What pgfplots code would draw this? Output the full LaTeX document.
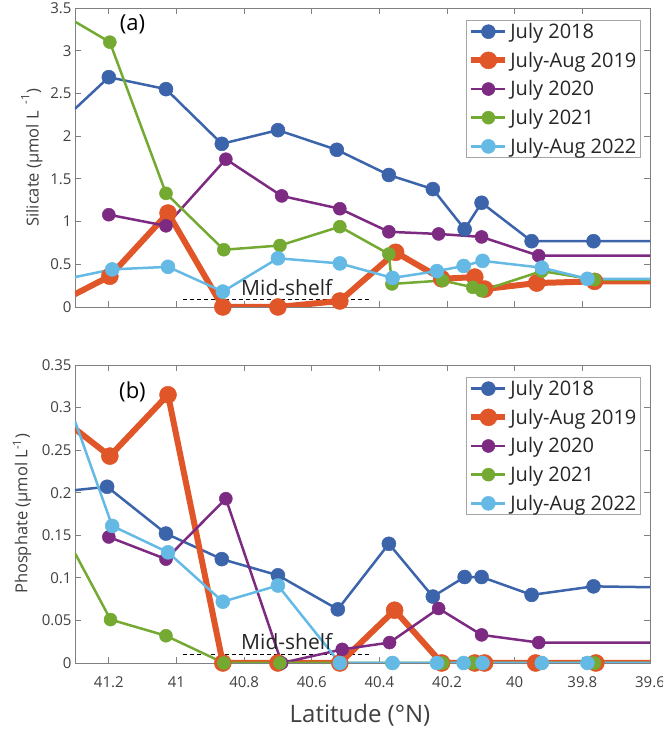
\documentclass[border=0pt]{standalone}
\usepackage{pgfplots}
\pgfplotsset{compat=1.18}
\usepackage{fontspec}
\setmainfont{Open Sans}

\definecolor{c18}{RGB}{60,100,170}
\definecolor{c19}{RGB}{224,86,40}
\definecolor{c20}{RGB}{125,42,130}
\definecolor{c21}{RGB}{116,170,50}
\definecolor{c22}{RGB}{100,186,228}

\newcommand{\legpad}{\hspace{12bp}}

\pgfplotsset{
  transect/.style={
    scale only axis, width=575bp,
    x dir=reverse, xmin=39.6, xmax=41.3,
    xtick={39.6,39.8,40,40.2,40.4,40.6,40.8,41,41.2},
    tick align=inside, major tick length=6bp,
    axis line style={black!50, line width=0.8bp},
    every tick/.style={black!50, line width=0.8bp},
    tick label style={font=\fontsize{15bp}{18bp}\selectfont, text=black!75},
    xticklabel style={yshift=-10bp},
    every axis y label/.style={rotate=90, anchor=center,
      font=\fontsize{16.5bp}{19bp}\selectfont, text=black!75},
    legend style={at={(0.984,0.96)}, anchor=north east, draw=black!35,
      line width=0.8bp, fill=white,
      font=\fontsize{20bp}{24bp}\selectfont, text=black!85,
      cells={anchor=west}, row sep=8bp, inner xsep=2bp, inner ysep=1bp},
    legend image code/.code={%
      \draw[mark indices={2}] plot coordinates {(0bp,0bp) (17bp,0bp) (34bp,0bp)};},
    clip=true,
  },
  s18/.style={color=c18, line width=2.5bp, mark=*, mark size=7bp, mark options={fill=c18, draw=c18, line width=0.5bp}},
  s19/.style={color=c19, line width=6bp, mark=*, mark size=8.5bp, mark options={fill=c19, draw=c19, line width=0.5bp}},
  s20/.style={color=c20, line width=2.5bp, mark=*, mark size=6.5bp, mark options={fill=c20, draw=c20, line width=0.5bp}},
  s21/.style={color=c21, line width=2.5bp, mark=*, mark size=6.5bp, mark options={fill=c21, draw=c21, line width=0.5bp}},
  s22/.style={color=c22, line width=2.5bp, mark=*, mark size=7bp, mark options={fill=c22, draw=c22, line width=0.5bp}},
}

\begin{document}
\begin{tikzpicture}[x=1bp,y=1bp]
\path[use as bounding box] (0,0) rectangle (663,733);

% ---------------- (a) silicate ----------------
\begin{axis}[transect, at={(75bp,426bp)}, anchor=south west, height=299bp,
  ymin=0, ymax=3.5,
  ytick={0,0.5,1,1.5,2,2.5,3,3.5},
  yticklabels={0,0.5,1,1.5,2,2.5,3,3.5},
  xticklabels={},
  ylabel={Silicate (µmol L\hspace{7bp}\raisebox{3bp}{\textsuperscript{-1}})},
  every axis y label/.append style={at={(axis description cs:-0.075,0.5)}},
]
\addplot[black, dashed, line width=1bp, dash pattern=on 4bp off 3bp, forget plot]
  coordinates {(40.981,0.082) (40.423,0.082)};
\addplot[s18, mark indices={2,3,4,5,6,7,8,9,10,11,12}] coordinates {
  (41.3,2.32) (41.2,2.69) (41.031,2.55) (40.866,1.91) (40.70,2.07) (40.526,1.84)
  (40.372,1.545) (40.242,1.38) (40.148,0.91) (40.098,1.22) (39.95,0.77) (39.767,0.77) (39.6,0.77)};
\addlegendentry{July 2018\legpad}
\addplot[s19, mark indices={2,3,4,5,6,7,8,9,10,11,12}] coordinates {
  (41.3,0.15) (41.197,0.36) (41.025,1.10) (40.863,0.0) (40.70,0.0) (40.517,0.07)
  (40.352,0.64) (40.216,0.33) (40.118,0.35) (40.089,0.21) (39.935,0.28) (39.764,0.30) (39.6,0.30)};
\addlegendentry{July-Aug 2019\legpad}
\addplot[s20, mark indices={1,2,3,4,5,6,7,8,9}] coordinates {
  (41.2,1.08) (41.031,0.95) (40.854,1.73) (40.689,1.30) (40.517,1.15) (40.372,0.88)
  (40.225,0.855) (40.098,0.82) (39.929,0.60) (39.6,0.60)};
\addlegendentry{July 2020\legpad}
\addplot[s21, mark indices={2,3,4,5,6,7,8,9,10,11,12,13}] coordinates {
  (41.3,3.34) (41.197,3.10) (41.031,1.33) (40.86,0.67) (40.694,0.72) (40.517,0.94)
  (40.372,0.62) (40.363,0.27) (40.213,0.31) (40.124,0.23) (40.098,0.19) (39.92,0.42) (39.764,0.32) (39.6,0.32)};
\addlegendentry{July 2021\legpad}
\addplot[s22, mark indices={2,3,4,5,6,7,8,9,10,11,12}] coordinates {
  (41.3,0.35) (41.19,0.44) (41.025,0.47) (40.863,0.18) (40.70,0.57) (40.517,0.51)
  (40.361,0.34) (40.23,0.42) (40.151,0.48) (40.095,0.54) (39.92,0.46) (39.785,0.33) (39.6,0.33)};
\addlegendentry{July-Aug 2022\legpad}
\node[anchor=base, font=\fontsize{21bp}{25bp}\selectfont, text=black!85] at (axis cs:40.674,0.14) {Mid-shelf};
\node[font=\fontsize{22bp}{26bp}\selectfont] at (axis description cs:0.10,0.945) {(a)};
\end{axis}

% ---------------- (b) phosphate ----------------
\begin{axis}[transect, at={(75bp,70bp)}, anchor=south west, height=298bp,
  ymin=0, ymax=0.35,
  ytick={0,0.05,0.1,0.15,0.2,0.25,0.3,0.35},
  yticklabels={0,0.05,0.1,0.15,0.2,0.25,0.3,0.35},
  xticklabels={39.6,39.8,40,40.2,40.4,40.6,40.8,41,41.2},
  ylabel={Phosphate (µmol L\textsuperscript{-1})},
  every axis y label/.append style={at={(axis description cs:-0.092,0.5)}},
]
\addplot[black, dashed, line width=1bp, dash pattern=on 4bp off 3bp, forget plot]
  coordinates {(40.981,0.0094) (40.423,0.0094)};
\addplot[s18, mark indices={2,3,4,5,6,7,8,9,10,11,12}] coordinates {
  (41.3,0.203) (41.205,0.207) (41.031,0.152) (40.866,0.122) (40.70,0.103) (40.523,0.063)
  (40.372,0.140) (40.242,0.078) (40.148,0.101) (40.098,0.101) (39.95,0.080) (39.767,0.090) (39.6,0.089)};
\addlegendentry{July 2018\legpad}
\addplot[s19, mark indices={2,3,4,5,6,7,8,9,10,11,12}] coordinates {
  (41.3,0.275) (41.197,0.243) (41.025,0.315) (40.863,0) (40.70,0) (40.517,0)
  (40.355,0.062) (40.216,0) (40.118,0) (40.089,0) (39.938,0) (39.76,0) (39.6,0)};
\addlegendentry{July-Aug 2019\legpad}
\addplot[s20, mark indices={1,2,3,4,5,6,7,8,9}] coordinates {
  (41.2,0.148) (41.031,0.122) (40.854,0.193) (40.689,0) (40.51,0.016) (40.37,0.024)
  (40.225,0.064) (40.098,0.033) (39.929,0.024) (39.6,0.024)};
\addlegendentry{July 2020\legpad}
\addplot[s21, mark indices={2,3,4,5,6,7,8,9,10,11,12}] coordinates {
  (41.3,0.129) (41.195,0.051) (41.031,0.032) (40.86,0) (40.694,0) (40.517,0)
  (40.363,0) (40.213,0) (40.124,0) (40.098,0) (39.92,0) (39.764,0) (39.6,0)};
\addlegendentry{July 2021\legpad}
\addplot[s22, mark indices={2,3,4,5,6,7,8,9,10,11,12}] coordinates {
  (41.3,0.284) (41.19,0.161) (41.025,0.130) (40.863,0.072) (40.70,0.091) (40.517,0)
  (40.361,0) (40.23,0) (40.151,0) (40.095,0) (39.92,0) (39.785,0) (39.6,0)};
\addlegendentry{July-Aug 2022\legpad}
\node[anchor=base, font=\fontsize{21bp}{25bp}\selectfont, text=black!85] at (axis cs:40.674,0.0153) {Mid-shelf};
\node[font=\fontsize{22bp}{26bp}\selectfont] at (axis description cs:0.10,0.909) {(b)};
\end{axis}

% shared x-axis title under the lower panel
\node[anchor=base, font=\fontsize{24bp}{28bp}\selectfont, text=black!75] at (360bp,10bp) {Latitude (°N)};
\end{tikzpicture}
\end{document}
